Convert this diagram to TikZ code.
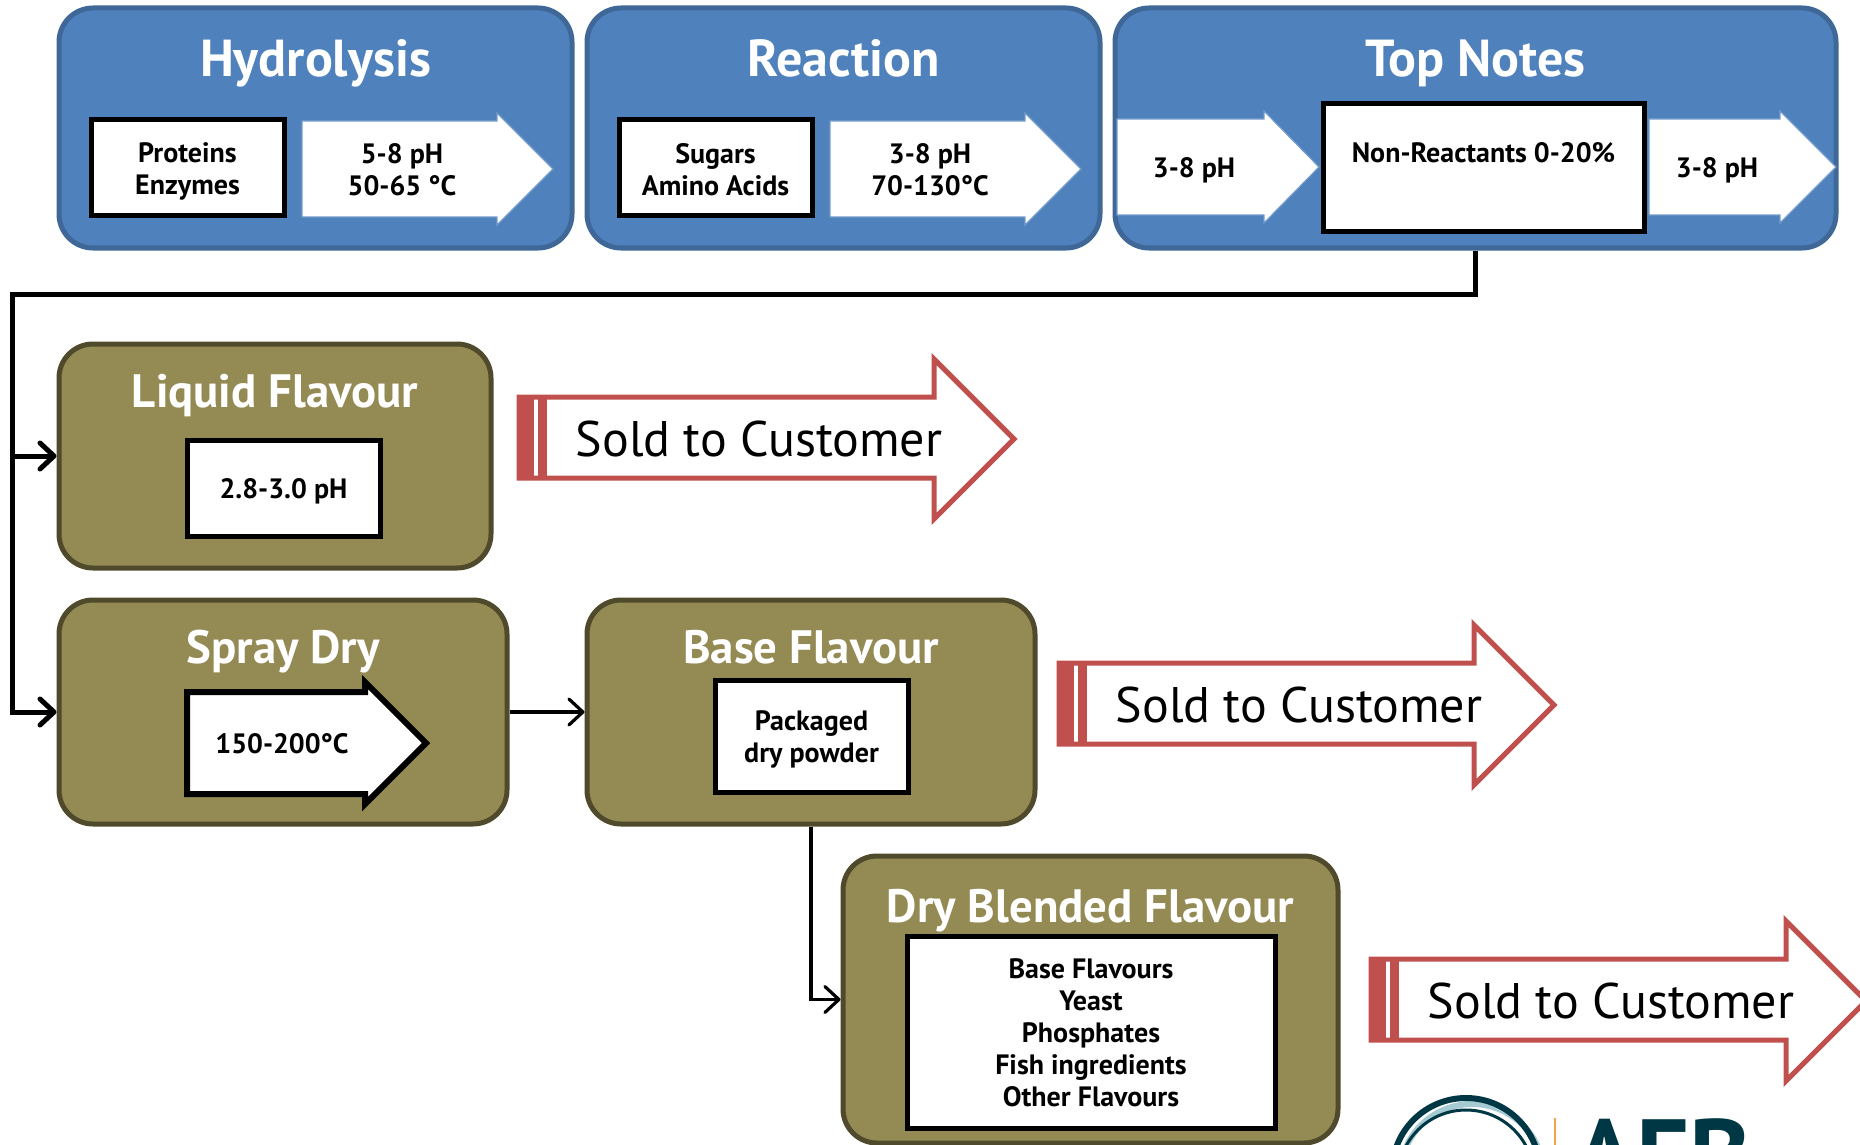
\documentclass[tikz,border=0pt]{standalone}
\usepackage{fontspec}
\setmainfont{PT Sans}
\usetikzlibrary{arrows.meta,fit}
\definecolor{blueFill}{HTML}{4F81BD}
\definecolor{blueEdge}{HTML}{3F6797}
\definecolor{oliveFill}{HTML}{948A54}
\definecolor{oliveEdge}{HTML}{4F4A2C}
\definecolor{soldRed}{HTML}{C0504D}
\definecolor{logoDark}{HTML}{003745}
\definecolor{logoPale}{HTML}{A3CBD1}
\definecolor{logoOrange}{HTML}{F5A540}
\tikzset{
  panel/.style = { rounded corners=17pt, line width=2.5pt, inner sep=0pt },
  bluepanel/.style = { panel, fill=blueFill, draw=blueEdge },
  olivepanel/.style = { panel, fill=oliveFill, draw=oliveEdge },
  bluetitle/.style = { font=\fontsize{26}{30}\selectfont\bfseries, text=white, anchor=base },
  olivetitle/.style = { font=\fontsize{23.4}{27}\selectfont\bfseries, text=white, anchor=base },
  inbox/.style = { draw=black, fill=white, line width=2.5pt, inner sep=0pt },
  intext/.style = { align=center, font=\fontsize{14}{16}\selectfont\bfseries },
  flowarrow/.style = { fill=white, draw=blueFill!80!white, line width=0.6pt },
  blackarrow/.style = { fill=white, draw=black, line width=3pt, miter limit=6 },
  trunk/.style = { line width=2.5pt, -{Straight Barb[length=7pt,width=13pt,round]} },
  thinline/.style = { line width=1.6pt, -{Straight Barb[length=7pt,width=13pt,round]} },
  sold/.pic = {
    \draw[draw=soldRed, fill=white, line width=2.5pt, miter limit=6]
      (2,41) -- (417,41) -- (417,3) -- (497,83) -- (417,163) -- (417,122) -- (2,122) -- cycle;
    \fill[soldRed] (0,40) rectangle (17,124);
    \fill[soldRed] (21,40) rectangle (30,124);
    \node[font=\fontsize{25}{29}\selectfont] (-label) at (242,83) {Sold to Customer};
  }
}
\begin{document}
\begin{tikzpicture}[x=0.5pt,y=-0.5pt]
  \useasboundingbox (0,0) rectangle (1860,1145);
  \clip (0,0) rectangle (1860,1145);
  % process row
  \node[bluepanel, fit={(59,8)(572,248)}] (hydrolysis) {};
  \node[bluepanel, fit={(587,8)(1100,248)}] (reaction) {};
  \node[bluepanel, fit={(1115,8)(1836,248)}] (topnotes) {};
  \node[bluetitle] (hydrolysistitle) at (hydrolysis.center |- 0,77) {Hydrolysis};
  \node[bluetitle] (reactiontitle) at (reaction.center |- 0,77) {Reaction};
  \node[bluetitle] (topnotestitle) at (topnotes.center |- 0,77) {Top Notes};
  \node[inbox, fit={(91,120)(284,216)}] (proteins) {};
  \node[inbox, fit={(619,120)(812,216)}] (sugars) {};
  \node[inbox, fit={(1323,104)(1644,232)}] (nonreact) {};
  \node[intext] (proteinstext) at (proteins.center |- 0,171) {Proteins\\Enzymes};
  \node[intext] (sugarstext) at (sugars.center |- 0,170) {Sugars\\Amino Acids};
  \node[intext] (nonreacttext) at (nonreact.center |- 0,153) {Non-Reactants 0-20\%};
  \foreach \xa/\xb/\xc/\ym/\yd in {302/497/553/169/48, 830/1025/1081/169/48, 1117/1264/1319/167/48, 1649/1780/1836/167/48}{
    \draw[flowarrow] (\xa,\ym-\yd) -- (\xb,\ym-\yd) -- (\xb,\ym-\yd-8) -- (\xc,\ym)
      -- (\xb,\ym+\yd+8) -- (\xb,\ym+\yd) -- (\xa,\ym+\yd) -- cycle;
  }
  \node[intext] (hydrotext) at (402,170) {5-8 pH\\50-65 °C};
  \node[intext] (reacttext) at (930,170) {3-8 pH\\70-130°C};
  \node[intext] (topintext) at (1194,170) {3-8 pH};
  \node[intext] (topouttext) at (1717,170) {3-8 pH};
  % finishing boxes
  \node[olivepanel, fit={(59,344)(491,568)}] (liquid) {};
  \node[olivepanel, fit={(59,600)(507,824)}] (spraydry) {};
  \node[olivepanel, fit={(587,600)(1035,824)}] (base) {};
  \node[olivepanel, fit={(843,856)(1338,1143)}] (dryblend) {};
  \node[olivetitle] (liquidtitle) at (275,407) {Liquid Flavour};
  \node[olivetitle] (spraytitle) at (spraydry.center |- 0,663) {Spray Dry};
  \node[olivetitle] (basetitle) at (base.center |- 0,663) {Base Flavour};
  \node[olivetitle] (dryblendtitle) at (dryblend.center |- 0,922) {Dry Blended Flavour};
  \node[inbox, fit={(187,440)(380,536)}] (liquidph) {};
  \node[inbox, fit={(715,680)(908,792)}] (powder) {};
  \node[inbox, fit={(907,936)(1275,1128)}] (blendlist) {};
  \node[intext] (liquidphtext) at (liquidph.center |- 0,491) {2.8-3.0 pH};
  \node[intext] (powdertext) at (powder.center |- 0,739) {Packaged\\dry powder};
  \node[intext] (blendlisttext) at (blendlist.center |- 0,1033) {Base Flavours\\Yeast\\Phosphates\\Fish ingredients\\Other Flavours};
  \draw[blackarrow] (187,692) -- (365,692) -- (365,682) -- (426,743) -- (365,804) -- (365,794) -- (187,794) -- cycle;
  \node[intext] (spraytext) at (282,744) {150-200°C};
  % sold arrows
  \pic (soldone) at (517,356) {sold};
  \pic (soldtwo) at (1057,622) {sold};
  \pic (soldthree) at (1369,918) {sold};
  % connectors
  \coordinate (turn) at (12,294);
  \draw[trunk] (topnotes.south) |- (turn) |- (spraydry.west);
  \draw[trunk] (turn |- liquid.west) -- (liquid.west);
  \draw[thinline] (spraydry.east) -- (base.west);
  \draw[thinline] (base.south) |- (dryblend.west);
  % logo, cut by the page edge
  \draw[logoPale, line width=3pt] (1472,1176) circle (72);
  \draw[logoDark, line width=3pt] (1466,1172) circle (74);
  \draw[logoDark, line width=1.5pt] (1466,1178) circle (68);
  \draw[logoOrange, line width=1pt] (1555,1118) -- (1555,1145);
  \node[font=\fontsize{52}{52}\selectfont\bfseries, text=logoDark, anchor=base west, inner sep=0pt] (logotext) at (1573,1192) {AFB};
\end{tikzpicture}
\end{document}
